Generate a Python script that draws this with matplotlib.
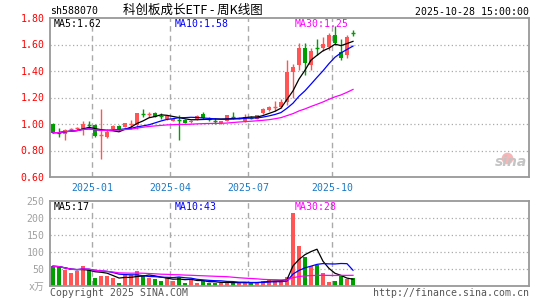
#
# python3 plot.py  -> out.png (sina weekly K-line, sh588070)
#
import matplotlib
matplotlib.use("Agg")
import matplotlib.pyplot as plt
import numpy as np
import pandas as pd

plt.rcParams['font.family'] = ['DejaVu Sans Mono', 'Noto Sans CJK SC']

# weekly candles, 2024-11 .. 2025-10-28
opens = [1.000, 0.940, 0.925, 0.955, 0.962, 0.960, 0.995, 0.993, 0.915, 0.900,
         0.960, 0.983, 0.980, 0.995, 0.995, 1.080, 1.068, 1.085, 1.065, 1.035,
         1.025, 1.035, 1.030, 1.012, 1.035, 1.073, 1.040, 1.025, 1.005, 1.023,
         1.056, 1.040, 1.020, 1.050, 1.040, 1.080, 1.106, 1.128, 1.130, 1.168,
         1.390, 1.445, 1.571, 1.445, 1.577, 1.571, 1.584, 1.672, 1.540, 1.520, 1.690]
closes = [0.935, 0.935, 0.955, 0.960, 0.967, 1.000, 0.990, 0.912, 0.918, 0.940,
          0.983, 0.953, 1.007, 0.998, 1.080, 1.078, 1.072, 1.055, 1.062, 1.060,
          1.035, 1.030, 1.010, 1.025, 1.063, 1.043, 1.038, 1.022, 1.023, 1.068,
          1.054, 1.045, 1.050, 1.048, 1.065, 1.110, 1.126, 1.130, 1.168, 1.395,
          1.432, 1.571, 1.462, 1.550, 1.576, 1.604, 1.672, 1.610, 1.495, 1.654, 1.688]
highs = [1.005, 0.970, 0.960, 0.970, 0.980, 1.020, 1.020, 0.998, 1.113, 0.960,
         0.990, 0.990, 1.010, 1.030, 1.085, 1.115, 1.090, 1.090, 1.085, 1.070,
         1.045, 1.068, 1.035, 1.030, 1.065, 1.090, 1.050, 1.043, 1.025, 1.070,
         1.090, 1.050, 1.075, 1.060, 1.070, 1.120, 1.135, 1.170, 1.190, 1.480,
         1.450, 1.610, 1.614, 1.575, 1.640, 1.660, 1.690, 1.740, 1.640, 1.670, 1.710]
lows = [0.930, 0.900, 0.880, 0.950, 0.955, 0.920, 0.970, 0.900, 0.736, 0.895,
        0.955, 0.950, 0.975, 0.960, 0.960, 1.050, 1.050, 1.050, 1.040, 1.030,
        1.020, 0.880, 1.005, 1.005, 1.030, 1.040, 1.025, 1.000, 1.000, 1.020,
        1.040, 1.035, 1.015, 1.035, 1.035, 1.075, 1.100, 1.100, 1.120, 1.140,
        1.200, 1.410, 1.370, 1.410, 1.520, 1.550, 1.560, 1.600, 1.480, 1.500, 1.665]
# volume, 万
volumes = [58, 56, 46, 38, 43, 59, 46, 24, 30, 30,
           24, 9, 33, 31, 43, 31, 24, 20, 14, 27,
           15, 27, 10, 20, 9, 14, 10, 10, 10, 10,
           10, 10, 10, 10, 10, 16, 22, 16, 14, 27,
           216, 118, 86, 59, 62, 39, 13, 14, 28, 22, 23]

month_labels = ["2025-01", "2025-04", "2025-07", "2025-10"]
month_first_week = [7, 20, 33, 47]

price_ticks = [0.60, 0.80, 1.00, 1.20, 1.40, 1.60, 1.80]
vol_ticks = [0, 50, 100, 150, 200, 250]
vol_tick_labels = ["x万", "50", "100", "150", "200", "250"]

ma_labels = ["MA5:1.62", "MA10:1.58", "MA30:1.25"]
vol_ma_labels = ["MA5:17", "MA10:43", "MA30:28"]

RED = '#ff5555'
GREEN = '#009f00'
MA_COLORS = ['black', '#0000ff', '#ff00ff']
FRAME = '#999999'
GRID = '#aaaaaa'
FS = 7.1

W, H = 545, 300
fig = plt.figure(figsize=(W / 100, H / 100), dpi=100)

def px_axes(l, t, r, b):
    return fig.add_axes([l / W, 1 - b / H, (r - l) / W, (b - t) / H])

def ptext(x, y, s, size=FS, **kw):
    fig.text(x / W, 1 - y / H, s, fontsize=size, va='center', **kw)

o = np.array(opens); c = np.array(closes)
hi = np.array(highs); lo = np.array(lows)
v = np.array(volumes, dtype=float)
idx = np.arange(len(o))
up = c >= o
cols = [RED if u else GREEN for u in up]
xmax = (529 - 53) / 6.0
vlines_x = [w - 0.5 for w in month_first_week]

# ---------- price panel
ax = px_axes(50, 18, 529, 177)
ax.set_xlim(-0.5, xmax)
ax.set_ylim(0.60, 1.80)
for y in price_ticks[1:-1]:
    ax.axhline(y, color=GRID, lw=0.9, ls=(0, (1, 2)), zorder=0)
for x in vlines_x:
    ax.axvline(x, color=GRID, lw=1.0, ls=(0, (4, 3)), zorder=0)

ax.vlines(idx, lo, hi, colors=cols, lw=1.0, zorder=2)
body_lo = np.minimum(o, c)
body_h = np.abs(c - o)
solid = body_h >= 0.006
ax.bar(idx[solid], body_h[solid], bottom=body_lo[solid], width=0.8,
       color=[cols[i] for i in idx[solid]], lw=0, zorder=3)
for i in idx[~solid]:
    ax.hlines(c[i], i - 0.4, i + 0.4, colors=cols[i], lw=1.0, zorder=3)

s = pd.Series(c)
for n, col in zip([5, 10, 30], MA_COLORS):
    ax.plot(idx, s.rolling(n, min_periods=1).mean(), color=col, lw=0.9, zorder=4)

ax.set_yticks(price_ticks)
ax.set_yticklabels([f"{t:.2f}" for t in price_ticks], color='#ff0000', fontsize=FS)
ax.set_xticks(vlines_x)
ax.set_xticklabels(month_labels, color='#1a7ac4', fontsize=FS)
ax.tick_params(length=0, pad=4)
for sp in ax.spines.values():
    sp.set_color(FRAME); sp.set_linewidth(1.3)

# sina watermark
ax.scatter([xmax - 3.6], [0.745], s=70, color='#f7b5b5', marker='o', lw=0, zorder=1)
ax.text(xmax - 0.3, 0.66, "sina", fontsize=10, style='italic', weight='bold',
        color='#c4c4c4', ha='right', va='bottom', family='DejaVu Sans', zorder=1)

# ---------- volume panel
axv = px_axes(50, 201, 529, 286)
axv.set_xlim(-0.5, xmax)
axv.set_ylim(0, 250)
for y in vol_ticks[1:-1]:
    axv.axhline(y, color=GRID, lw=0.9, ls=(0, (1, 2)), zorder=0)
for x in vlines_x:
    axv.axvline(x, color=GRID, lw=1.0, ls=(0, (4, 3)), zorder=0)
axv.bar(idx, v, width=0.8, color=cols, lw=0, zorder=2)
sv = pd.Series(v)
for n, col in zip([5, 10, 30], MA_COLORS):
    axv.plot(idx, sv.rolling(n, min_periods=1).mean(), color=col, lw=0.9, zorder=3)
axv.set_yticks(vol_ticks)
axv.set_yticklabels(vol_tick_labels, color='#a0a0a0', fontsize=FS)
axv.set_xticks([])
axv.tick_params(length=0, pad=4)
for sp in axv.spines.values():
    sp.set_color(FRAME); sp.set_linewidth(1.3)

# ---------- texts
ptext(50, 11, "sh588070", ha='left', color='black')
ptext(193, 10, "科创板成长ETF - 周K线图", size=9, ha='center', color='black',
      family=['Noto Sans CJK SC', 'DejaVu Sans'])
ptext(529, 12, "2025-10-28 15:00:00", ha='right', color='black')
for xp, lab, col in zip([54, 175, 295], ma_labels, MA_COLORS):
    ptext(xp, 24, lab, ha='left', color=col)
for xp, lab, col in zip([54, 175, 295], vol_ma_labels, MA_COLORS):
    ptext(xp, 207, lab, ha='left', color=col)
ptext(50, 293, "Copyright 2025 SINA.COM", ha='left', color='#555555')
ptext(529, 293, "http://finance.sina.com.cn", ha='right', color='#555555')

plt.savefig("out.png", dpi=100)
